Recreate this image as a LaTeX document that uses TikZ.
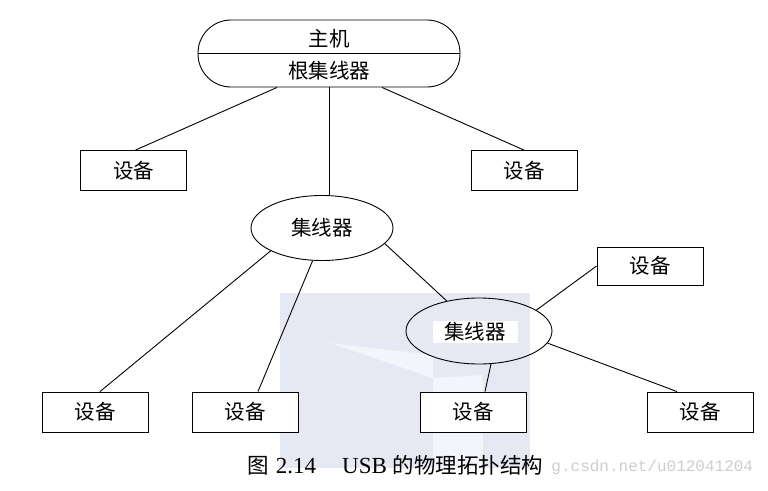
\documentclass[tikz,border=0pt]{standalone}
\usepackage{fontspec}
\setmainfont{Liberation Serif}
\newfontfamily\cjk{Noto Sans CJK SC}
\newfontfamily\wmfont{Liberation Mono}
\usetikzlibrary{shapes.geometric}
\definecolor{wmblue}{RGB}{230,232,243}
\definecolor{wmtext}{RGB}{205,205,205}
\begin{document}
\begin{tikzpicture}[x=1pt,y=-1pt,line width=0.9pt,
  cjktext/.style={font=\cjk\fontsize{20.5}{24}\selectfont},
  devbox/.style={draw,fill=white,minimum width=106pt,minimum height=40pt,inner sep=0pt,cjktext},
  hubell/.style={draw,ellipse,inner sep=0pt,cjktext},
  lbl/.style={inner sep=0pt,cjktext}]
\useasboundingbox (0,0) rectangle (768,490);
% watermark background
\fill[wmblue] (280,293) rectangle (530,468);
\fill[white!55!wmblue] (330,343) -- (433,355) -- (433,468) -- (483,468) -- (483,375) -- (433,378) -- cycle;
% host capsule
\node[draw,rounded corners=33pt,minimum width=262pt,minimum height=67pt,inner sep=0pt] (host) at (329,53.5) {};
\draw (host.west) -- (host.east);
\node[lbl] (hostt) at (329,38.5) {主机};
\node[lbl] (hostb) at (329,70.5) {根集线器};
% devices
\node[devbox] (dtl) at (133.5,170.5) {设备};
\node[devbox] (dtr) at (524,170.5) {设备};
\node[devbox,minimum height=38pt] (dr) at (650,266) {设备};
\node[devbox] (b1) at (95,412) {设备};
\node[devbox] (b2) at (245,412) {设备};
\node[devbox] (b3) at (473,412) {设备};
\node[devbox] (b4) at (700,412) {设备};
% hubs
\node[hubell,minimum width=142pt,minimum height=65pt] (hub1) at (322,228) {集线器};
\node[hubell,minimum width=146pt,minimum height=66pt] (hub2) at (479,331) {};
\node[lbl,fill=white,minimum width=85pt,minimum height=22pt] (hub2t) at (475,332) {集线器};
% connectors
\draw ([xshift=-52pt]host.south) -- ([xshift=2pt]dtl.north);
\draw ([xshift=53pt]host.south) -- (dtr.north);
\draw (host.south) -- (host.south |- hub1.north);
\draw (hub1.204.7) -- ([xshift=5pt]b1.north);
\draw (hub1.254) -- ([xshift=13pt]b2.north);
\draw (hub1.346) -- (hub2.137);
\draw (hub2.20) -- (dr.west);
\draw (hub2.350) -- ([xshift=-23pt]b4.north);
\draw (hub2.290) -- ([xshift=12pt]b3.north);
% caption
\node[anchor=west,inner sep=0pt,font=\fontsize{23}{27}\selectfont] (cap) at (247,465)
  {{\cjk\fontsize{21.5}{26}\selectfont 图}\hspace{7pt}2.14\hspace{26pt}USB\hspace{6pt}{\cjk\fontsize{21.5}{26}\selectfont 的物理拓扑结构}};
\node[anchor=west,inner sep=0pt,text=wmtext,font=\wmfont\fontsize{16}{18}\selectfont] (wm) at (551,467) {g.csdn.net/u012041204};
\end{tikzpicture}
\end{document}
